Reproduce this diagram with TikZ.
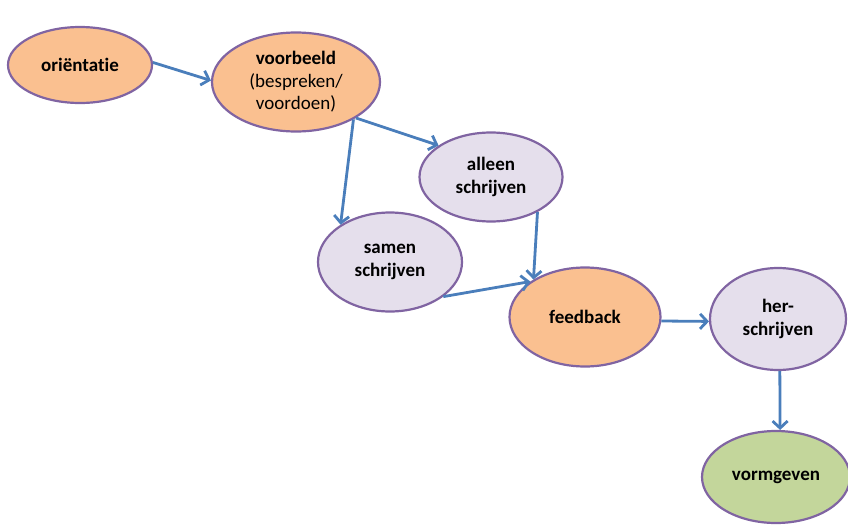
\documentclass[tikz,border=0pt]{standalone}
\usepackage{fontspec}
\setmainfont{Carlito}[Ligatures=NoCommon]
\usetikzlibrary{arrows.meta,shapes.geometric}

\definecolor{oranje}{HTML}{FAC090}
\definecolor{lila}{HTML}{E5DFEC}
\definecolor{groen}{HTML}{C3D69B}
\definecolor{rand}{HTML}{8064A2}
\definecolor{pijl}{HTML}{4A7EBB}

\tikzset{
  stap/.style={ellipse, draw=rand, line width=2.2pt, align=center, inner sep=0pt,
               font=\fontsize{19}{22.5}\selectfont\bfseries},
  pijlstap/.style={-{Straight Barb[length=7pt,width=15pt]}, pijl, line width=2.8pt}
}

\begin{document}
\begin{tikzpicture}[x=1pt,y=-1pt]
    \useasboundingbox (0,0) rectangle (848,525);

    \node (Ori) at (80,65) [stap, fill=oranje, minimum width=144pt, minimum height=76pt] {oriëntatie};
    \node (Voo) at (296,82) [stap, fill=oranje, minimum width=168pt, minimum height=99pt] {voorbeeld\\\mdseries(bespreken/\\\mdseries voordoen)};
    \node (All) at (491,177) [stap, fill=lila, minimum width=143pt, minimum height=89pt] {alleen\\schrijven};
    \node (Sam) at (390,262) [stap, fill=lila, minimum width=144pt, minimum height=99pt] {samen\\schrijven};
    \node (Fee) at (585,317) [stap, fill=oranje, minimum width=151pt, minimum height=99pt] {feedback};
    \node (Her) at (778,319) [stap, fill=lila, minimum width=136pt, minimum height=102pt] {her-\\schrijven};
    \node (Vor) at (776,477) [stap, fill=groen, minimum width=148pt, minimum height=92pt] {vormgeven};

    \draw[pijlstap] (Ori.2) to (Voo.179);
    \draw[pijlstap] (Voo.-31) to (All.149);
    \draw[pijlstap] (Voo.-33) to (Sam.143);
    \draw[pijlstap] (All.-37) to (Fee.144);
    \draw[pijlstap] (Sam.-33) to (Fee.147);
    \draw[pijlstap] (Fee.-3) to (Her.182);
    \draw[pijlstap] (Her.-88) to (Vor.85);
\end{tikzpicture}
\end{document}
